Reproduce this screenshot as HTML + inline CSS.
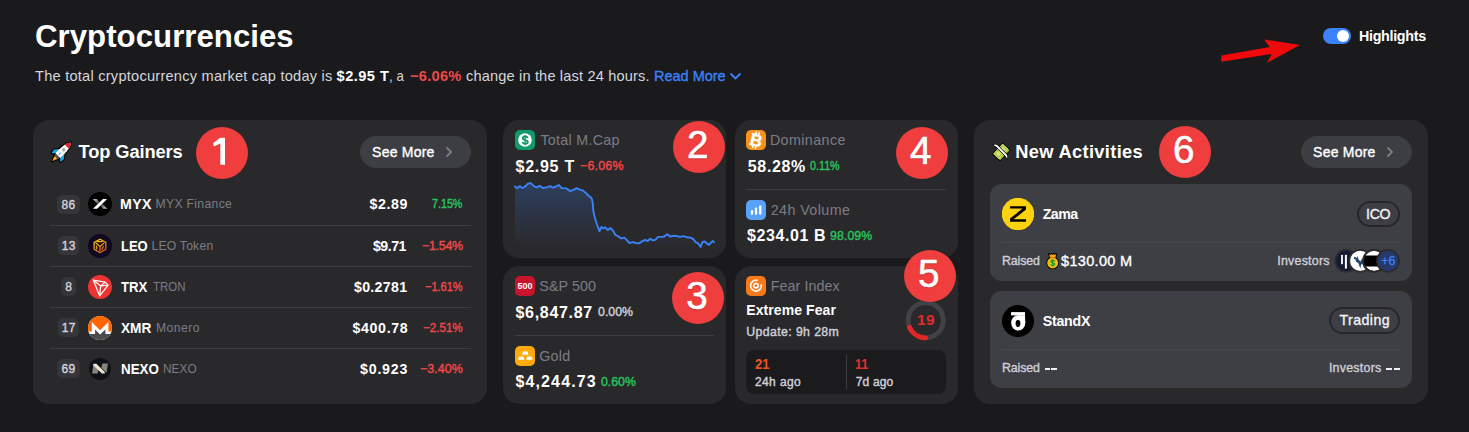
<!DOCTYPE html>
<html>
<head>
<meta charset="utf-8">
<title>Cryptocurrencies</title>
<style>
html,body{margin:0;padding:0;}
body{width:1469px;height:432px;background:#1a1a1d;overflow:hidden;position:relative;
  font-family:"Liberation Sans",sans-serif;color:#fff;}
.t{position:absolute;white-space:nowrap;line-height:20px;height:20px;}
.b{font-weight:bold;}
.sub{font-size:14.6px;color:#d6d6dc;}
.r{text-align:right;}
.mm{-webkit-text-stroke:0.4px currentColor;}
.m{font-weight:normal;-webkit-text-stroke:0.35px currentColor;}
.card{position:absolute;background:#29292c;border-radius:16px;}
.g{color:#7c7c86;}
.lt{color:#d0d0d8;}
.red{color:#f04848;}
.grn{color:#27c45c;}
.num{position:absolute;width:52px;height:52px;border-radius:50%;background:#f03d3d;color:#fff;
  font-size:38.6px;line-height:48.4px;text-indent:-2.4px;text-align:center;-webkit-text-stroke:0.6px #fff;text-shadow:0 1px 1px rgba(0,0,0,.25);}
.btn{position:absolute;height:32px;border-radius:16px;background:#3d3e44;}
.div{position:absolute;height:1px;background:#3d3d45;}
.rank{position:absolute;height:19px;border-radius:5.5px;background:#35353a;color:#d2d2da;font-size:12px;
  line-height:20.8px;text-align:center;font-weight:normal;-webkit-text-stroke:0.4px currentColor;letter-spacing:0.3px;text-indent:0.3px;}
.ico{position:absolute;width:24px;height:24px;border-radius:50%;overflow:hidden;}
.sq{position:absolute;width:20px;height:20px;border-radius:5px;overflow:hidden;}
.inner{position:absolute;background:#3e3f45;border-radius:12px;}
.pill{position:absolute;height:22.7px;border:2px solid #27272b;border-radius:14px;font-size:14.2px;line-height:23px;
  text-align:center;font-weight:normal;-webkit-text-stroke:0.35px currentColor;color:#f2f2f5;}
</style>
</head>
<body>

<!-- header -->
<div class="t b" id="title" style="left:35.00px;top:16.59px;font-size:31.2px;line-height:40px;height:40px;letter-spacing:0.030px;">Cryptocurrencies</div>
<div class="t sub" id="s1" style="left:35.00px;top:66.14px;letter-spacing:0.238px;">The total cryptocurrency market cap today is</div>
<div class="t sub b" id="s2" style="left:336.60px;top:66.14px;color:#fff;letter-spacing:0.452px;">$2.95 T</div>
<div class="t sub" id="s3" style="left:388.70px;top:66.14px;transform:scaleX(0.9127);transform-origin:0 0;">, a</div>
<div class="t sub b red" id="s4" style="left:410.00px;top:66.14px;letter-spacing:0.288px;">−6.06%</div>
<div class="t sub" id="s5" style="left:466.00px;top:66.14px;letter-spacing:0.155px;">change in the last 24 hours.</div>
<div class="t sub m" id="s6" style="left:654.00px;top:66.14px;color:#3b82f6;transform:scaleX(0.9919);transform-origin:0 0;">Read More</div>
<svg style="position:absolute;left:729px;top:72px" width="13" height="9" viewBox="0 0 13 9"><path d="M2 2 L6.5 6.5 L11 2" fill="none" stroke="#3b82f6" stroke-width="1.8" stroke-linecap="round" stroke-linejoin="round"/></svg>

<!-- arrow -->
<svg style="position:absolute;left:1215px;top:30px" width="95" height="40" viewBox="1215 30 95 40">
<polygon points="1221.3,55.6 1269.8,47 1264,39.4 1300,45 1267,62.8 1271.7,54 1221.3,61.7" fill="#ee0a0a"/>
</svg>

<!-- toggle -->
<div style="position:absolute;left:1323px;top:28px;width:28px;height:16px;border-radius:8px;background:#3b82f6;"></div>
<div style="position:absolute;left:1337px;top:30px;width:12px;height:12px;border-radius:50%;background:#fff;"></div>
<div class="t b" id="hl" style="left:1359.00px;top:26.05px;font-size:14.3px;letter-spacing:-0.310px;">Highlights</div>

<!-- CARD 1 -->
<div class="card" style="left:33px;top:120px;width:454px;height:284px;"></div>
<svg id="rocket" style="position:absolute;left:47px;top:138px" width="28" height="28" viewBox="-14 -14 28 28">
<g transform="translate(0.1,0.3) rotate(45)">
<g stroke="#000" stroke-width="2.2" stroke-linejoin="round" fill="#000">
<path d="M0 -13.6 C3.4 -10.5 3.6 -5 3.4 4.6 L-3.4 4.6 C-3.6 -5 -3.4 -10.5 0 -13.6 Z"/>
<path d="M-3.3 -1.5 L-7 3.2 L-6.2 7.4 L-3.3 4.6 Z"/><path d="M3.3 -1.5 L7 3.2 L6.2 7.4 L3.3 4.6 Z"/>
<rect x="-2.6" y="4.6" width="5.2" height="2.6"/>
<path d="M-2.1 7.2 L2.1 7.2 L0 12.8 Z"/>
</g>
<path d="M-2.1 7.2 L2.1 7.2 L0 12.8 Z" fill="#ff8a1d"/>
<path d="M-1.1 7.2 L1.1 7.2 L0 10.2 Z" fill="#ffc928"/>
<path d="M-3.3 -1.5 L-7 3.2 L-6.2 7.4 L-3.3 4.6 Z" fill="#19a9e6"/><path d="M3.3 -1.5 L7 3.2 L6.2 7.4 L3.3 4.6 Z" fill="#19a9e6"/>
<rect x="-2.6" y="4.6" width="5.2" height="2.6" fill="#50565e"/>
<path d="M0 -13.6 C3.4 -10.5 3.6 -5 3.4 4.6 L-3.4 4.6 C-3.6 -5 -3.4 -10.5 0 -13.6 Z" fill="#fff"/>
<path d="M0 -13.6 C1.6 -12.1 2.6 -10.3 3.1 -8 L-3.1 -8 C-2.6 -10.3 -1.6 -12.1 0 -13.6 Z" fill="#e8212f"/>
<circle cx="0" cy="-3.6" r="1.9" fill="#b9bcc2"/><circle cx="0" cy="-3.6" r="1" fill="#9ea2a9"/>
<rect x="-0.5" y="0.6" width="1" height="3" fill="#19a9e6"/>
</g></svg>
<div class="t b" id="tg" style="left:78.60px;top:139.66px;font-size:18.3px;line-height:24px;height:24px;letter-spacing:-0.128px;">Top Gainers</div>
<div class="num" style="left:196.2px;top:126.6px;"><svg width="52" height="52" viewBox="0 0 52 52" style="position:absolute;left:0;top:0"><path d="M24.3 10.7 L29 10.7 L29 37.8 L24.3 37.8 L24.3 16.6 L17.8 19.6 L17.2 16 Z" fill="#fff"/></svg></div>
<div class="btn" style="left:360px;top:136px;width:111px;"></div>
<div class="t m" id="sm1" style="left:372.10px;top:142.05px;font-size:14px;letter-spacing:0.214px;">See More</div>
<svg style="position:absolute;left:445px;top:147px" width="8" height="10" viewBox="0 0 8 10"><path d="M2 1 L6 5 L2 9" fill="none" stroke="#7c7c86" stroke-width="1.8" stroke-linecap="round" stroke-linejoin="round"/></svg>

<div class="rank" id="rk0" style="left:57.0px;top:195.0px;width:22.6px;">86</div>
<svg id="ic0" style="position:absolute;left:88px;top:192px" width="24" height="24" viewBox="0 0 24 24">
<defs><linearGradient id="mg1" x1="0" y1="0" x2="1" y2="1"><stop offset="0" stop-color="#fff" stop-opacity=".85"/><stop offset="1" stop-color="#fff" stop-opacity=".1"/></linearGradient>
<linearGradient id="mg2" x1="1" y1="1" x2="0" y2="0"><stop offset="0" stop-color="#fff" stop-opacity=".85"/><stop offset="1" stop-color="#fff" stop-opacity=".1"/></linearGradient></defs>
<circle cx="12" cy="12" r="12" fill="#000"/>
<polygon points="4.9,7.1 8.8,7.1 11.8,10.6 9.6,12.2" fill="url(#mg1)"/>
<polygon points="19.1,16.7 15.2,16.7 12.2,13.2 14.4,11.6" fill="url(#mg2)"/>
<polygon points="14.9,7.1 19.1,7.1 9.2,16.7 4.9,16.7" fill="#fff"/>
</svg>
<div class="t b" id="sy0" style="left:120.00px;top:194.08px;font-size:14.2px;letter-spacing:0.400px;">MYX</div>
<div class="t g" id="nm0" style="left:155.50px;top:194.07px;font-size:12.2px;letter-spacing:0.320px;">MYX Finance</div>
<div class="t b r" id="pr0" style="left:369.50px;top:194.08px;font-size:14.2px;letter-spacing:0.600px;">$2.89</div>
<div class="t r grn mm" id="pc0" style="left:432.40px;top:194.10px;font-size:12.4px;transform:scaleX(0.8642);transform-origin:0 0;">7.15%</div>
<div class="div" style="left:50px;top:225px;width:421px;"></div>
<div class="rank" id="rk1" style="left:58.3px;top:236.0px;width:20.7px;">13</div>
<svg id="ic1" style="position:absolute;left:88px;top:234px" width="24" height="24" viewBox="0 0 24 24">
<defs><linearGradient id="lg" x1="0" y1="0" x2="0.6" y2="1"><stop offset="0" stop-color="#f7d21c"/><stop offset="1" stop-color="#e2601a"/></linearGradient></defs>
<circle cx="12" cy="12" r="12" fill="#100720"/>
<g fill="none" stroke="url(#lg)" stroke-width="1.3" stroke-linejoin="round" stroke-linecap="round">
<path d="M12 5.2 L17.8 8.4 L17.8 15.2 L12 18.6 L6.2 15.2 L6.2 8.4 Z"/>
<path d="M8.2 9.2 L12 12.6 L15.8 9.2 M12 12.6 L12 16.6 M8.6 12.2 L8.6 15 M15.2 12.4 L14 15.4 M9.6 7.6 L14 7.6"/>
</g>
</svg>
<div class="t b" id="sy1" style="left:121.10px;top:235.58px;font-size:14.2px;transform:scaleX(0.9170);transform-origin:0 0;">LEO</div>
<div class="t g" id="nm1" style="left:151.50px;top:235.57px;font-size:12.2px;letter-spacing:0.200px;">LEO Token</div>
<div class="t b r" id="pr1" style="left:373.00px;top:235.58px;font-size:14.2px;letter-spacing:-0.520px;">$9.71</div>
<div class="t r red mm" id="pc1" style="left:422.00px;top:235.60px;font-size:12.4px;letter-spacing:-0.256px;">−1.54%</div>
<div class="div" style="left:50px;top:266px;width:421px;"></div>
<div class="rank" id="rk2" style="left:61.0px;top:277.0px;width:15.0px;">8</div>
<svg id="ic2" style="position:absolute;left:88px;top:275px" width="24" height="24" viewBox="0 0 24 24">
<circle cx="12" cy="12" r="12" fill="#ee3333"/>
<g fill="none" stroke="#fff" stroke-width="1.25" stroke-linejoin="round">
<path d="M5.3 5.1 L17.1 7.1 L20.1 10.1 L11.6 20.8 Z"/>
<path d="M5.3 5.1 L12.7 10.9 L11.6 20.8 M12.7 10.9 L17.1 7.1 M12.7 10.9 L20.1 10.1"/>
</g>
</svg>
<div class="t b" id="sy2" style="left:120.70px;top:276.58px;font-size:14.2px;transform:scaleX(0.9290);transform-origin:0 0;">TRX</div>
<div class="t g" id="nm2" style="left:153.40px;top:276.57px;font-size:12.2px;transform:scaleX(0.9386);transform-origin:0 0;">TRON</div>
<div class="t b r" id="pr2" style="left:354.00px;top:276.58px;font-size:14.2px;letter-spacing:0.295px;">$0.2781</div>
<div class="t r red mm" id="pc2" style="left:425.00px;top:276.60px;font-size:12.4px;transform:scaleX(0.8854);transform-origin:0 0;">−1.61%</div>
<div class="div" style="left:50px;top:307px;width:421px;"></div>
<div class="rank" id="rk3" style="left:58.1px;top:318.0px;width:20.8px;">17</div>
<svg id="ic3" style="position:absolute;left:88px;top:316px" width="24" height="24" viewBox="0 0 24 24">
<defs><clipPath id="xc"><circle cx="12" cy="12" r="12"/></clipPath></defs>
<g clip-path="url(#xc)">
<rect width="24" height="24" fill="#fff"/>
<polygon points="0,0 24,0 24,15.6 20.4,15.6 20.4,6 12,14.3 3.8,6 3.8,15.6 0,15.6" fill="#ff6600"/>
<polygon points="0,17.9 7.1,17.9 7.1,13.6 12,18.4 17.4,13.6 17.4,17.9 24,17.9 24,24 0,24" fill="#4c4c4c"/>
</g>
</svg>
<div class="t b" id="sy3" style="left:120.70px;top:317.58px;font-size:14.2px;transform:scaleX(0.9629);transform-origin:0 0;">XMR</div>
<div class="t g" id="nm3" style="left:156.00px;top:317.57px;font-size:12.2px;letter-spacing:0.448px;">Monero</div>
<div class="t b r" id="pr3" style="left:352.50px;top:317.58px;font-size:14.2px;letter-spacing:0.642px;">$400.78</div>
<div class="t r red mm" id="pc3" style="left:423.40px;top:317.60px;font-size:12.4px;transform:scaleX(0.9364);transform-origin:0 0;">−2.51%</div>
<div class="div" style="left:50px;top:348px;width:421px;"></div>
<div class="rank" id="rk4" style="left:56.9px;top:359.0px;width:22.9px;">69</div>
<svg id="ic4" style="position:absolute;left:89px;top:358px" width="22" height="22" viewBox="0 0 22 22">
<circle cx="11" cy="11" r="11" fill="#0e1115"/>
<polygon points="4.2,5.8 7.4,5.8 15.8,14 15.8,15.4 12.9,15.4 4.2,7.2" fill="#ece4d0"/>
<polygon points="3.1,15.4 4.4,6.2 9.6,11.2 8.6,15.4" fill="#ece4d0" opacity=".55"/>
<polygon points="18.9,5.6 17.6,14.8 12.4,9.8 13.4,5.6" fill="#ece4d0" opacity=".55"/>
</svg>
<div class="t b" id="sy4" style="left:120.70px;top:358.58px;font-size:14.2px;transform:scaleX(0.9404);transform-origin:0 0;">NEXO</div>
<div class="t g" id="nm4" style="left:162.60px;top:358.57px;font-size:12.2px;transform:scaleX(0.9743);transform-origin:0 0;">NEXO</div>
<div class="t b r" id="pr4" style="left:360.00px;top:358.58px;font-size:14.2px;letter-spacing:0.800px;">$0.923</div>
<div class="t r red mm" id="pc4" style="left:420.00px;top:358.60px;font-size:12.4px;letter-spacing:0.096px;">−3.40%</div>

<!-- CARD 2 -->
<div class="card" style="left:503px;top:120px;width:223px;height:138px;"></div>
<svg id="q2" style="position:absolute;left:515px;top:130px" width="20" height="20" viewBox="0 0 20 20">
<rect width="20" height="20" rx="5" fill="#129a6c"/><circle cx="10" cy="10" r="6.8" fill="#fff"/>
<g fill="none" stroke="#129a6c"><path d="M12.7 8 C12.4 6.9 11.3 6.5 10.2 6.5 C8.8 6.5 7.8 7.2 7.8 8.3 C7.8 9.4 8.8 9.8 10.2 10.1 C11.7 10.4 12.8 10.9 12.8 12 C12.8 13.1 11.6 13.8 10.2 13.8 C8.9 13.8 7.8 13.2 7.5 12.1" stroke-width="1.9"/><path d="M10.2 5 V15.2" stroke-width="1.3"/></g></svg>
<div class="t g" id="c2a" style="left:540.40px;top:130.25px;font-size:14.3px;letter-spacing:0.280px;">Total M.Cap</div>
<div class="t b" id="c2b" style="left:515.50px;top:156.66px;font-size:16px;letter-spacing:0.734px;">$2.95 T</div>
<div class="t red mm" id="c2c" style="left:580.00px;top:156.34px;font-size:12.3px;letter-spacing:0.272px;">−6.06%</div>
<svg style="position:absolute;left:505px;top:175px" width="220" height="83" viewBox="505 175 220 83">
<defs><linearGradient id="cg" x1="0" y1="0" x2="0" y2="1"><stop offset="0" stop-color="#3b82f6" stop-opacity="0.25"/><stop offset="1" stop-color="#3b82f6" stop-opacity="0"/></linearGradient></defs>
<polygon points="515.0,186.5 517.5,188.1 520.0,186.1 522.3,188.1 525.2,186.5 527.7,183.8 530.9,183.1 533.8,186.1 536.7,187.3 539.6,185.8 543.0,188.1 546.3,187.3 550.2,186.1 553.0,187.7 555.9,186.5 558.8,185.0 561.7,188.1 566.5,188.4 569.9,191.1 573.2,190.0 576.5,188.1 579.9,189.6 582.8,190.4 585.7,192.7 588.6,195.8 591.5,198.1 592.6,201.9 593.4,211.5 595.3,219.2 597.2,225.0 599.5,231.1 601.5,226.9 603.4,228.4 605.3,227.3 607.8,230.0 610.3,228.0 613.0,230.7 615.5,234.9 618.4,236.5 621.2,238.4 624.5,237.6 627.0,240.3 629.5,243.0 632.8,242.2 635.7,243.0 639.1,243.4 642.4,241.1 645.3,239.9 647.6,241.1 650.1,238.8 652.9,240.3 655.3,239.9 658.1,236.9 661.0,236.9 663.5,236.9 667.4,234.2 670.2,236.5 674.1,235.7 677.0,236.1 679.8,236.9 683.7,236.1 687.1,237.3 690.4,237.6 693.3,239.2 695.6,242.2 698.1,243.4 700.6,246.9 702.5,241.9 704.8,241.5 706.7,243.4 709.1,244.9 711.0,242.6 712.9,241.1 713.9,242.2 713.9,246.5 515.0,246.5" fill="url(#cg)"/>
<polyline points="515.0,186.5 517.5,188.1 520.0,186.1 522.3,188.1 525.2,186.5 527.7,183.8 530.9,183.1 533.8,186.1 536.7,187.3 539.6,185.8 543.0,188.1 546.3,187.3 550.2,186.1 553.0,187.7 555.9,186.5 558.8,185.0 561.7,188.1 566.5,188.4 569.9,191.1 573.2,190.0 576.5,188.1 579.9,189.6 582.8,190.4 585.7,192.7 588.6,195.8 591.5,198.1 592.6,201.9 593.4,211.5 595.3,219.2 597.2,225.0 599.5,231.1 601.5,226.9 603.4,228.4 605.3,227.3 607.8,230.0 610.3,228.0 613.0,230.7 615.5,234.9 618.4,236.5 621.2,238.4 624.5,237.6 627.0,240.3 629.5,243.0 632.8,242.2 635.7,243.0 639.1,243.4 642.4,241.1 645.3,239.9 647.6,241.1 650.1,238.8 652.9,240.3 655.3,239.9 658.1,236.9 661.0,236.9 663.5,236.9 667.4,234.2 670.2,236.5 674.1,235.7 677.0,236.1 679.8,236.9 683.7,236.1 687.1,237.3 690.4,237.6 693.3,239.2 695.6,242.2 698.1,243.4 700.6,246.9 702.5,241.9 704.8,241.5 706.7,243.4 709.1,244.9 711.0,242.6 712.9,241.1 713.9,242.2" fill="none" stroke="#3b82f6" stroke-width="1.9" stroke-linejoin="round" stroke-linecap="round"/>
</svg>
<div class="num" id="n2" style="left:673.0px;top:120.5px;">2</div>
<!-- CARD 3 -->
<div class="card" style="left:503px;top:266px;width:223px;height:138px;"></div>
<svg id="q3a" style="position:absolute;left:515px;top:276px" width="20" height="20" viewBox="0 0 20 20">
<rect width="20" height="20" rx="5" fill="#c8152d"/>
<text x="10" y="13" text-anchor="middle" font-family="Liberation Sans, sans-serif" font-weight="bold" font-size="8.6" fill="#fff" textLength="15" lengthAdjust="spacingAndGlyphs">500</text></svg>
<div class="t g" id="c3a" style="left:539.30px;top:276.25px;font-size:14.3px;letter-spacing:0.094px;">S&amp;P 500</div>
<div class="t b" id="c3b" style="left:515.50px;top:302.66px;font-size:16px;letter-spacing:0.690px;">$6,847.87</div>
<div class="t lt mm" id="c3c" style="left:598.10px;top:302.34px;font-size:12.3px;letter-spacing:-0.020px;">0.00%</div>
<div class="div" style="left:515px;top:335px;width:199px;"></div>
<svg id="q3b" style="position:absolute;left:515px;top:346px" width="20" height="20" viewBox="0 0 20 20">
<rect width="20" height="20" rx="5" fill="#ffa90a"/>
<g fill="#fff"><path d="M8.2 5.5 L12.4 5.5 L13.6 8.8 L7 8.8 Z"/><path d="M4.1 10.4 L8.3 10.4 L9.5 13.7 L2.9 13.7 Z"/><path d="M12.3 10.4 L16.5 10.4 L17.7 13.7 L11.1 13.7 Z"/></g></svg>
<div class="t g" id="c3d" style="left:539.20px;top:346.25px;font-size:14.3px;letter-spacing:0.267px;">Gold</div>
<div class="t b" id="c3e" style="left:515.40px;top:371.86px;font-size:16px;letter-spacing:1.140px;">$4,244.73</div>
<div class="t grn mm" id="c3f" style="left:601.00px;top:371.74px;font-size:12.3px;letter-spacing:0.000px;">0.60%</div>
<div class="num" id="n3" style="left:672.2px;top:271.6px;">3</div>
<!-- CARD 4 -->
<div class="card" style="left:735px;top:120px;width:223px;height:138px;"></div>
<svg id="q4a" style="position:absolute;left:746px;top:130px" width="20" height="20" viewBox="0 0 20 20">
<rect width="20" height="20" rx="5" fill="#f7931a"/>
<g transform="rotate(14 10 10)"><text x="10.3" y="16" text-anchor="middle" font-family="Liberation Sans, sans-serif" font-weight="bold" font-size="16.8" fill="#fff" stroke="#fff" stroke-width="0.3">B</text>
<path d="M8.5 1.6 V5 M11.4 1.6 V5 M8.5 15.2 V18.6 M11.4 15.2 V18.6 M4.2 4.75 H8 M4.2 15.25 H8" stroke="#fff" stroke-width="1.6" fill="none"/></g></svg>
<div class="t g" id="c4a" style="left:769.90px;top:130.25px;font-size:14.3px;letter-spacing:0.400px;">Dominance</div>
<div class="t b" id="c4b" style="left:747.80px;top:156.66px;font-size:16px;letter-spacing:0.656px;">58.28%</div>
<div class="t grn mm" id="c4c" style="left:810.40px;top:156.34px;font-size:12.3px;transform:scaleX(0.8731);transform-origin:0 0;">0.11%</div>
<div class="div" style="left:746px;top:189px;width:200px;"></div>
<svg id="q4b" style="position:absolute;left:746px;top:200px" width="20" height="20" viewBox="0 0 20 20">
<rect width="20" height="20" rx="5" fill="#5aa2f8"/>
<g fill="#fff"><rect x="4.9" y="10" width="2.2" height="4.7" rx="1"/><rect x="8.9" y="7.6" width="2.2" height="7.1" rx="1"/><rect x="13.1" y="5.4" width="2.3" height="9.3" rx="1"/></g></svg>
<div class="t g" id="c4d" style="left:770.70px;top:200.25px;font-size:14.3px;letter-spacing:0.411px;">24h Volume</div>
<div class="t b" id="c4e" style="left:747.10px;top:225.86px;font-size:16px;letter-spacing:0.570px;">$234.01 B</div>
<div class="t grn mm" id="c4f" style="left:830.10px;top:225.74px;font-size:12.3px;letter-spacing:0.080px;">98.09%</div>
<div class="num" id="n4" style="left:896.0px;top:126.5px;">4</div>
<!-- CARD 5 -->
<div class="card" style="left:735px;top:266px;width:223px;height:138px;"></div>
<svg id="q5" style="position:absolute;left:746px;top:276px" width="20" height="20" viewBox="0 0 20 20">
<rect width="20" height="20" rx="5" fill="#f97a18"/>
<circle cx="10" cy="9.7" r="2.2" fill="none" stroke="#fff" stroke-width="1.6"/>
<path d="M10.9 4.4 A5.4 5.4 0 1 0 15.3 8.8" fill="none" stroke="#fff" stroke-width="1.6" stroke-linecap="round"/></svg>
<div class="t g" id="c5a" style="left:770.70px;top:275.95px;font-size:14.3px;letter-spacing:0.065px;">Fear Index</div>
<div class="t b" id="c5b" style="left:746.30px;top:300.35px;font-size:14px;letter-spacing:0.079px;">Extreme Fear</div>
<div class="t lt mm" id="c5c" style="left:746.30px;top:321.74px;font-size:12.3px;letter-spacing:0.388px;">Update: 9h 28m</div>
<svg style="position:absolute;left:905px;top:300px" width="41" height="41" viewBox="0 0 41 41">
<circle cx="20.7" cy="20.2" r="17.6" fill="none" stroke="#414148" stroke-width="4.8"/>
<path d="M 20.7 37.8 A 17.6 17.6 0 0 1 4.5 27.2" fill="none" stroke="#e02626" stroke-width="4.8" stroke-linecap="round"/>
</svg>
<div class="t b" id="c5g" style="left:905px;top:310.2px;width:41.6px;text-align:center;font-size:15.4px;letter-spacing:0.6px;text-indent:0.6px;color:#e12a2a;">19</div>
<div style="position:absolute;left:746px;top:350px;width:200px;height:44px;background:#1b1b1e;border-radius:8px;"></div>
<div class="t b" id="c5d" style="left:755.00px;top:353.95px;font-size:14px;color:#f4511e;transform:scaleX(0.9274);transform-origin:0 0;">21</div>
<div class="t lt mm" id="c5e" style="left:755.00px;top:371.54px;font-size:12px;letter-spacing:0.384px;">24h ago</div>
<div style="position:absolute;left:846px;top:354px;width:1px;height:36px;background:#3a3a3f;"></div>
<div class="t b" id="c5f" style="left:855.00px;top:353.95px;font-size:14px;color:#e53030;transform:scaleX(0.8812);transform-origin:0 0;">11</div>
<div class="t lt mm" id="c5h" style="left:855.70px;top:371.54px;font-size:12px;letter-spacing:0.176px;">7d ago</div>
<div class="num" id="n5" style="left:904.0px;top:249.5px;">5</div>
<!-- CARD 6 -->
<div class="card" style="left:974px;top:120px;width:454px;height:284px;"></div>

<svg id="wings" style="position:absolute;left:987px;top:138px" width="28" height="28" viewBox="0 0 28 28">
<g transform="translate(14.2,13.8) rotate(-47)">
<rect x="-7.9" y="-5.4" width="15.8" height="11.4" rx="1" fill="#000"/>
<rect x="-6.9" y="-4.4" width="13.8" height="9.4" fill="#a9c41c"/>
<rect x="-6.9" y="-4.4" width="13.8" height="7.6" fill="#d9ea5a"/>
<rect x="-5.5" y="-3.2" width="11" height="5.2" fill="none" stroke="#8e9596" stroke-width="0.9"/>
<circle cx="0" cy="-0.5" r="1.7" fill="#b7d32e"/>
</g>
<path d="M6.2 7.1 C7.4 6.2 9.6 6.2 11.3 8 L19.6 16.4 C20.5 17.6 20.5 19.4 20.1 20.8 C19.4 19.4 18.6 18.2 17.5 17 L10.3 9.8 C9.4 8.9 8 7.9 6.2 7.1 Z" fill="#fff" stroke="#000" stroke-width="1.2" stroke-linejoin="round" paint-order="stroke"/>
</svg>
<div class="t b" id="na" style="left:1015.20px;top:139.66px;font-size:18.3px;line-height:24px;height:24px;letter-spacing:0.328px;">New Activities</div>
<div class="num" id="n6" style="left:1159.0px;top:125.8px;">6</div>
<div class="btn" style="left:1301px;top:136px;width:111px;"></div>
<div class="t m" id="sm2" style="left:1313.10px;top:142.05px;font-size:14px;letter-spacing:0.214px;">See More</div>
<svg style="position:absolute;left:1386px;top:147px" width="8" height="10" viewBox="0 0 8 10"><path d="M2 1 L6 5 L2 9" fill="none" stroke="#7c7c86" stroke-width="1.8" stroke-linecap="round" stroke-linejoin="round"/></svg>

<div class="inner" style="left:990px;top:184px;width:422px;height:97px;"></div>
<svg id="zama" style="position:absolute;left:1002px;top:198px" width="32" height="32" viewBox="0 0 32 32">
<circle cx="16" cy="16" r="16.2" fill="#fdd20e"/>
<path d="M8.06 8.26 H24.05 V11.6 L11.6 21.3 H24.05 V23.7 H8.06 V20.4 L20.6 10.6 H8.06 Z" fill="#000"/></svg>
<div class="t b" id="z1" style="left:1042.70px;top:204.08px;font-size:14.2px;letter-spacing:-0.509px;">Zama</div>
<div class="pill" id="ico" style="left:1356.5px;top:200.7px;width:39.3px;letter-spacing:-0.35px;">ICO</div>
<div class="div" style="left:1002px;top:242px;width:398px;background:#47474d;"></div>
<div class="t lt m" id="z2" style="left:1002.00px;top:250.50px;font-size:12.4px;letter-spacing:-0.112px;">Raised</div>
<svg id="bag" style="position:absolute;left:1040px;top:248px" width="24" height="24" viewBox="0 0 24 24">
<g stroke="#000" stroke-width="1.8" stroke-linejoin="round" fill="#000">
<circle cx="12.7" cy="14.9" r="5.5"/><path d="M9 6 L10.2 6.9 L11.4 6 L12.7 6.9 L14 6 L15.2 6.9 L16.4 6 L15.3 9.4 L10.1 9.4 Z"/></g>
<path d="M9 6 L10.2 6.9 L11.4 6 L12.7 6.9 L14 6 L15.2 6.9 L16.4 6 L15.3 9.4 L10.1 9.4 Z" fill="#f2a60c"/>
<circle cx="12.7" cy="14.9" r="5.5" fill="#f7b90b"/>
<path d="M10.1 9.2 H15.3 L15.8 10.4 H9.6 Z" fill="#e0920a"/>
<g fill="none" stroke="#12a02a" transform="translate(12.7,14.9) scale(0.72) translate(-10.2,-10.1)"><path d="M12.7 8 C12.4 6.9 11.3 6.5 10.2 6.5 C8.8 6.5 7.8 7.2 7.8 8.3 C7.8 9.4 8.8 9.8 10.2 10.1 C11.7 10.4 12.8 10.9 12.8 12 C12.8 13.1 11.6 13.8 10.2 13.8 C8.9 13.8 7.8 13.2 7.5 12.1" stroke-width="1.9"/><path d="M10.2 5 V15.2" stroke-width="1.4"/></g>
</svg>
<div class="t m" id="z3" style="left:1061.10px;top:250.78px;font-size:14.5px;letter-spacing:0.300px;">$130.00 M</div>
<div class="t lt m" id="z4" style="left:1277.30px;top:250.60px;font-size:12.4px;letter-spacing:0.240px;">Investors</div>

<svg id="avs" style="position:absolute;left:1330px;top:246px" width="74" height="30" viewBox="1330 246 74 30">
<circle cx="1346.3" cy="260.9" r="11" fill="#151a33" stroke="#2b2b30" stroke-width="1.8"/>
<rect x="1341.1" y="254.9" width="1.8" height="9.3" fill="#fff"/><rect x="1344.9" y="254.9" width="2" height="13.7" fill="#fff"/>
<circle cx="1360.2" cy="260.9" r="11" fill="#fff" stroke="#2b2b30" stroke-width="1.8"/>
<path d="M1354.6 256.4 L1356.6 258 L1357.4 256 L1358.6 259.6 L1360.4 261.4 L1362 258.8 L1363.4 260 L1362.6 263.2 L1361 265 L1360.6 268 L1359.4 266.2 L1358.6 263.6 L1356 261.4 L1355.6 259.4 L1353.6 258.8 Z" fill="#1f4a72"/>
<circle cx="1374.1" cy="260.9" r="11" fill="#fff" stroke="#2b2b30" stroke-width="1.8"/>
<path d="M1364.3 255.5 H1383.9 A11 11 0 0 1 1383.4 266.6 H1364.8 A11 11 0 0 1 1364.3 255.5 Z" fill="#000"/>
<circle cx="1374.1" cy="260.9" r="11" fill="none" stroke="#2b2b30" stroke-width="1.8"/>
<circle cx="1388" cy="260.9" r="11" fill="#27396a" stroke="#2b2b30" stroke-width="1.8"/>
<text x="1388.3" y="265.2" text-anchor="middle" font-family="Liberation Sans, sans-serif" font-size="12.4" fill="#3b82f6" stroke="#3b82f6" stroke-width="0.3">+6</text>
</svg>
<div class="inner" style="left:990px;top:291px;width:422px;height:97px;"></div>
<svg id="standx" style="position:absolute;left:1002px;top:305px" width="32" height="32" viewBox="0 0 32 32">
<circle cx="16" cy="16" r="16" fill="#000"/>
<ellipse cx="16.2" cy="17.85" rx="7.1" ry="7.65" fill="#fff"/>
<polygon points="16.2,10.3 23,10.3 23.3,18 19.4,12.2" fill="#fff"/>
<rect x="9.07" y="7.1" width="13.95" height="3.3" fill="#fff"/>
<ellipse cx="16" cy="18.5" rx="2.4" ry="3.4" fill="#000"/></svg>
<div class="t b" id="x1" style="left:1042.70px;top:311.38px;font-size:14.2px;letter-spacing:-0.224px;">StandX</div>
<div class="pill" id="trd" style="left:1329.4px;top:307.4px;width:66.4px;letter-spacing:0.42px;text-indent:0.4px;">Trading</div>
<div class="div" style="left:1002px;top:349px;width:398px;background:#47474d;"></div>
<div class="t lt m" id="x2" style="left:1002.00px;top:357.80px;font-size:12.4px;letter-spacing:-0.112px;">Raised</div>
<div style="position:absolute;left:1044.9px;top:368px;width:5.3px;height:2px;background:#f0f0f4;"></div><div style="position:absolute;left:1051.3px;top:368px;width:5.8px;height:2px;background:#f0f0f4;"></div>
<div class="t lt m" id="x4" style="left:1328.90px;top:357.90px;font-size:12.4px;letter-spacing:0.260px;">Investors</div>
<div style="position:absolute;left:1386px;top:368px;width:6.1px;height:2px;background:#f0f0f4;"></div><div style="position:absolute;left:1393.5px;top:368px;width:6.5px;height:2px;background:#f0f0f4;"></div>

</body>
</html>
